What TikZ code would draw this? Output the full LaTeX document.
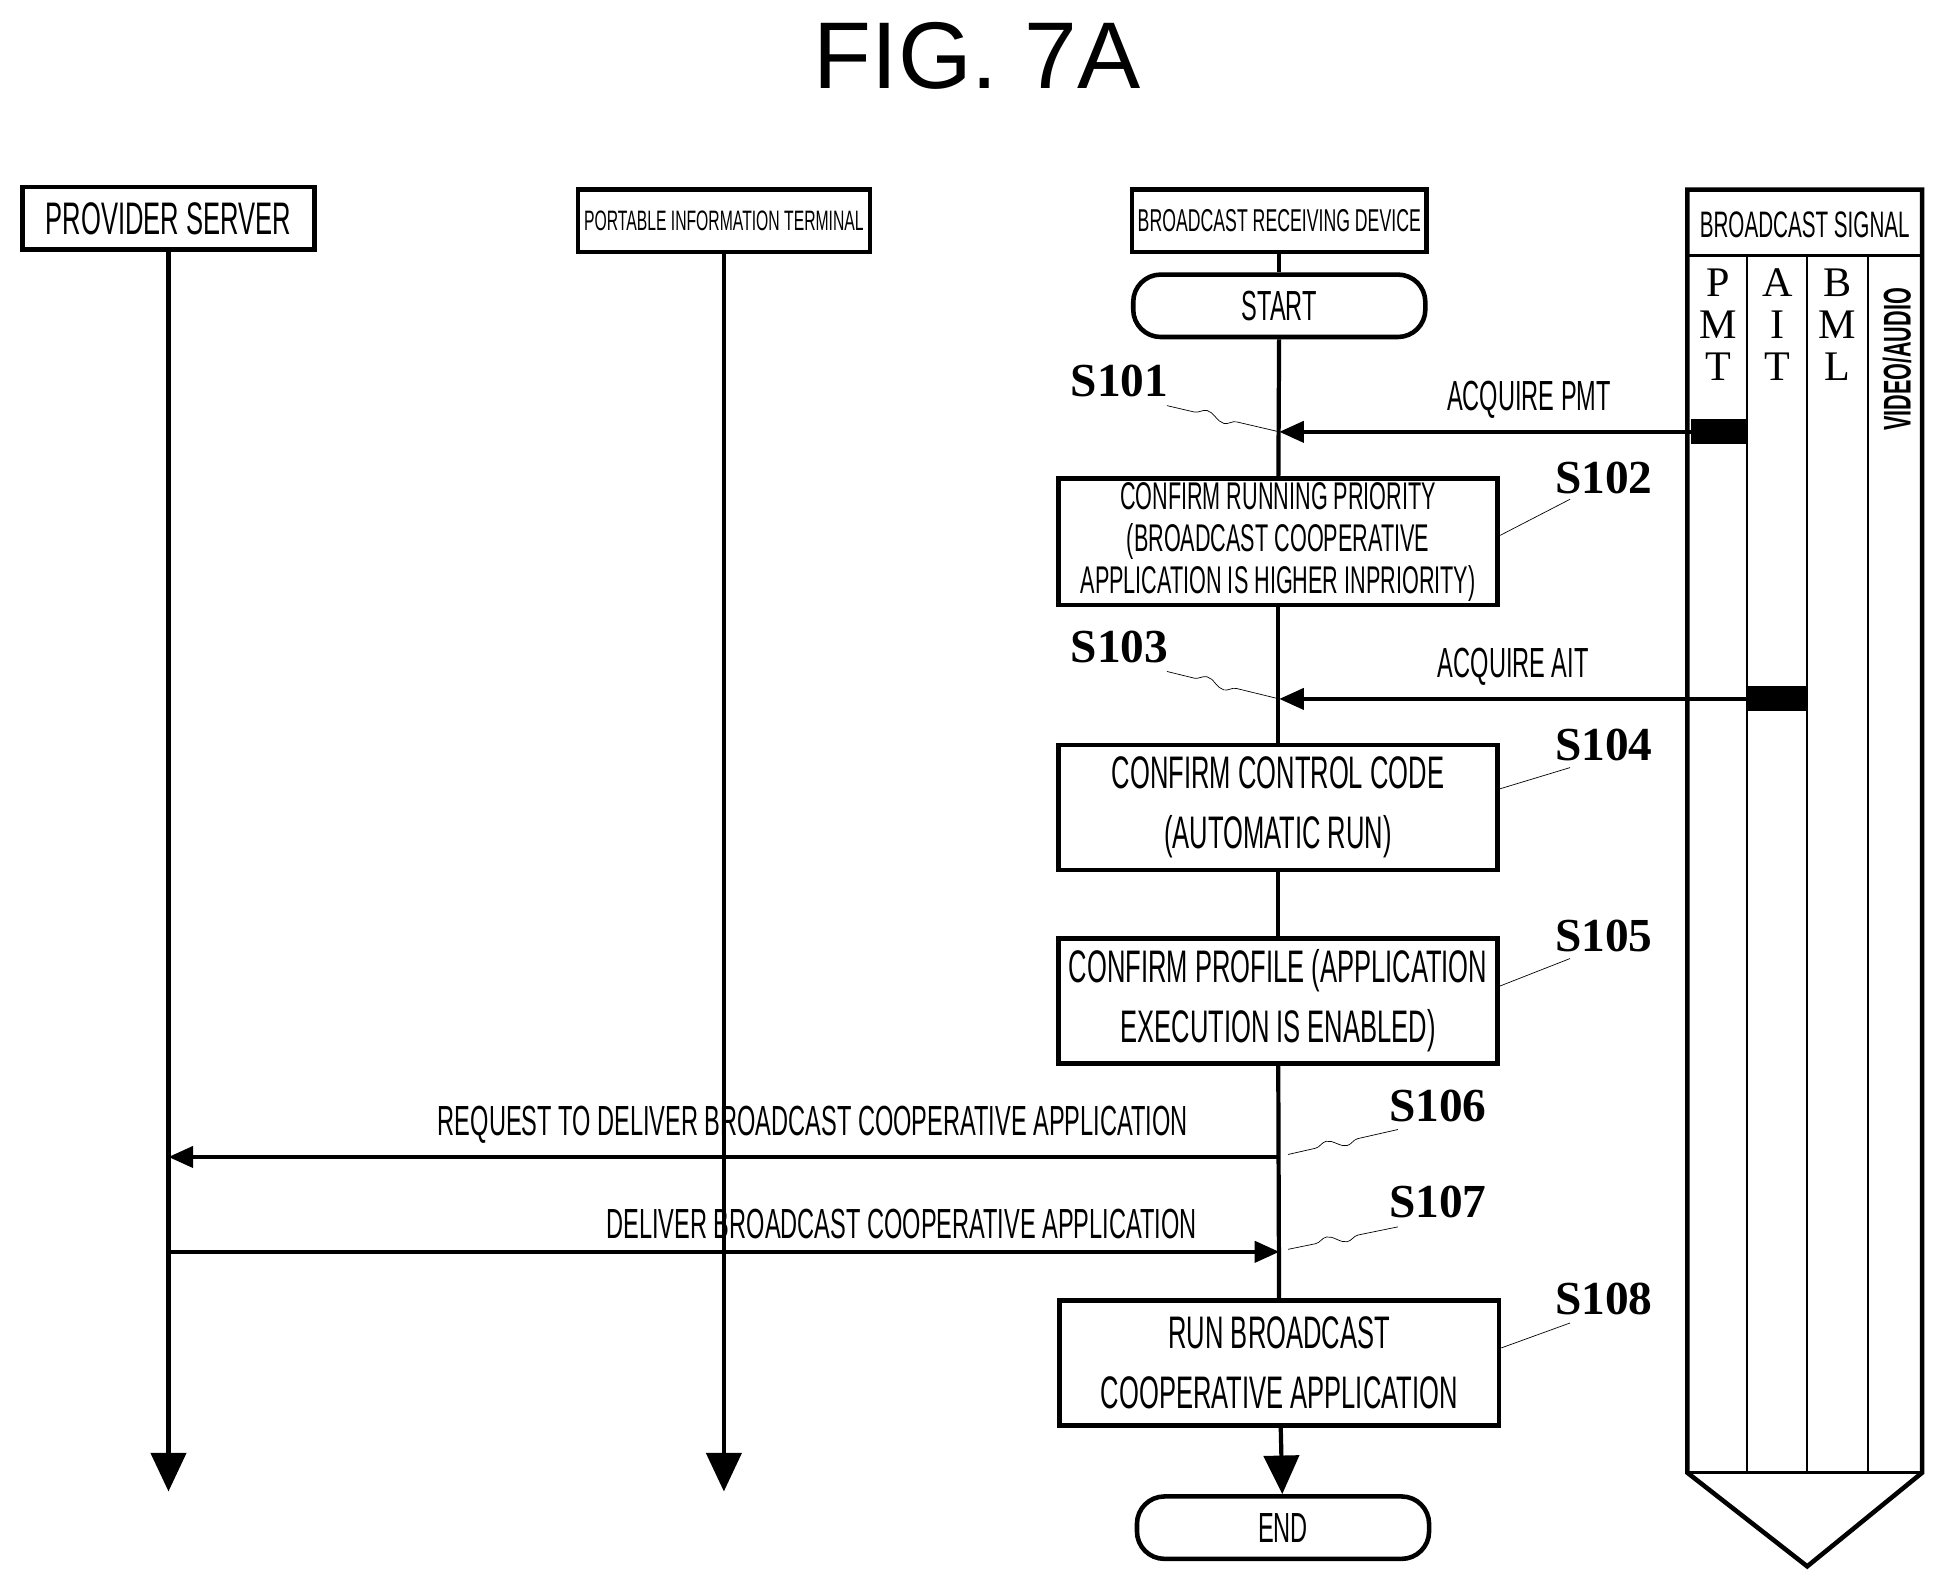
\documentclass[tikz,border=0pt]{standalone}
\usepackage{fontspec}
\setmainfont{Liberation Sans}
\newfontfamily\narrowfont[FakeStretch=0.56]{Liberation Sans}
\newfontfamily\serifbold{Liberation Serif}
\usetikzlibrary{arrows.meta,positioning,decorations.pathmorphing}
\tikzset{
  box/.style={draw, line width=2.6pt, align=center, inner sep=2pt,
    font=\narrowfont\fontsize{24}{27}\selectfont},
  proc/.style={box, minimum width=8.8cm, minimum height=2.5cm},
  term/.style={box, rounded corners=0.55cm, minimum width=5.85cm, minimum height=1.25cm},
  head/.style={box, minimum height=1.25cm},
  life/.style={line width=2.4pt, -{Triangle[width=20pt,length=22pt]}},
  msg/.style={line width=2.2pt, -{Triangle[width=12pt,length=14pt]}},
  lbl/.style={font=\narrowfont\fontsize{24}{29}\selectfont},
  sno/.style={font=\serifbold\bfseries\fontsize{27}{30}\selectfont},
  lead/.style={thin, decorate, decoration={snake, amplitude=2.5pt, segment length=22pt,
    pre length=16pt, post length=16pt}},
}
\begin{document}
\begin{tikzpicture}[x=0.025cm,y=-0.025cm]
\useasboundingbox (0,0) rectangle (1560,1270);
\node[font=\fontsize{54}{60}\selectfont] (title) at (783,45) {FIG. 7A};
% lifeline heads
\node[head, minimum width=5.85cm, font=\narrowfont\fontsize{26}{30}\selectfont] (srv) at (135,175) {PROVIDER SERVER};
\node[head, minimum width=5.85cm, font=\narrowfont\fontsize{16}{20}\selectfont] (pit) at (580,177) {PORTABLE INFORMATION TERMINAL};
\node[head, minimum width=5.9cm, font=\narrowfont\fontsize{18}{22}\selectfont] (brd) at (1025,177) {BROADCAST RECEIVING DEVICE};
\coordinate (srvend) at (135,1195);
\coordinate (pitend) at (580,1195);
\draw[life] (srv) -- (srvend);
\draw[life] (pit) -- (pitend);
% flow of the receiving device
\node[term] (start) at (1025,245) {START};
\coordinate (p101) at (1025,346);
\node[proc, font=\narrowfont\fontsize{22}{24}\selectfont] (s102) at (1024,434) {CONFIRM RUNNING PRIORITY\\(BROADCAST COOPERATIVE\\APPLICATION IS HIGHER INPRIORITY)};
\coordinate (p103) at (1025,560);
\node[proc, font=\narrowfont\fontsize{26}{34}\selectfont] (s104) at (1024,647) {CONFIRM CONTROL CODE\\(AUTOMATIC RUN)};
\node[proc, font=\narrowfont\fontsize{26}{34}\selectfont] (s105) at (1024,802) {CONFIRM PROFILE (APPLICATION\\EXECUTION IS ENABLED)};
\coordinate (p106) at (1025,927);
\coordinate (p107) at (1025,1003);
\node[proc, font=\narrowfont\fontsize{26}{34}\selectfont] (s108) at (1025,1092) {RUN BROADCAST\\COOPERATIVE APPLICATION};
\node[term] (end) at (1028,1224) {END};
\draw[line width=2.4pt] (brd) -- (start);
\draw[line width=2.4pt] (start) -- (s102);
\draw[line width=2.4pt] (s102) -- (s104);
\draw[line width=2.4pt] (s104) -- (s105);
\draw[line width=2.4pt] (s105) -- (s108);
\draw[life] (s108) -- (end);
% broadcast signal
\draw[line width=2.6pt] (1352,152) -- (1540,152) -- (1540,1180) -- (1448,1255) -- (1352,1180) -- cycle;
\draw[line width=1.6pt] (1352,205) -- (1540,205);
\node[lbl, font=\narrowfont\fontsize{21}{26}\selectfont] (sig) at (1446,180) {BROADCAST SIGNAL};
\foreach \x in {1400,1448,1497}
  \draw[line width=1.2pt] (\x,205) -- (\x,1180);
\draw[line width=1.6pt] (1352,1180) -- (1540,1180);
\node[font=\serifbold\fontsize{24}{24}\selectfont, align=center] (pmt) at (1377,260) {P\\M\\T};
\node[font=\serifbold\fontsize{24}{24}\selectfont, align=center] (ait) at (1424,260) {A\\I\\T};
\node[font=\serifbold\fontsize{24}{24}\selectfont, align=center] (bml) at (1472,260) {B\\M\\L};
\node[lbl, rotate=90, font=\narrowfont\bfseries\fontsize{22}{26}\selectfont] (va) at (1520,288) {VIDEO/AUDIO};
\fill (1355,336) rectangle (1400,356);
\fill (1400,550) rectangle (1448,570);
\coordinate (pmtout) at (1355,346);
\coordinate (aitout) at (1400,560);
% messages
\draw[msg] (pmtout) -- node[lbl, above=3pt, xshift=25pt] {ACQUIRE PMT} (p101);
\draw[msg] (aitout) -- node[lbl, above=3pt] {ACQUIRE AIT} (p103);
\coordinate (srv106) at (135,927);
\coordinate (srv107) at (135,1003);
\draw[msg] (p106) -- node[lbl, above=3pt, pos=0.42] {REQUEST TO DELIVER BROADCAST COOPERATIVE APPLICATION} (srv106);
\draw[msg] (srv107) -- node[lbl, above=3pt, pos=0.66] {DELIVER BROADCAST COOPERATIVE APPLICATION} (p107);
% step numbers
\node[sno] (n101) at (897,305) {S101};
\node[sno] (n102) at (1285,383) {S102};
\node[sno] (n103) at (897,518) {S103};
\node[sno] (n104) at (1285,597) {S104};
\node[sno] (n105) at (1285,750) {S105};
\node[sno] (n106) at (1152,886) {S106};
\node[sno] (n107) at (1152,963) {S107};
\node[sno] (n108) at (1285,1041) {S108};
\draw[lead] (935,325) -- (p101);
\draw[lead] (935,538) -- (p103);
\draw[lead] (s102.east) ++(0,-5) coordinate (a102) -- (1258,400);
\draw[lead] (s104.east) ++(0,-15) coordinate (a104) -- (1258,615);
\draw[lead] (s105.east) ++(0,-12) coordinate (a105) -- (1258,768);
\draw[lead] (s108.east) ++(0,-12) coordinate (a108) -- (1258,1060);
\draw[lead] (1032,925) -- (1120,905);
\draw[lead] (1032,1001) -- (1120,983);
\end{tikzpicture}
\end{document}
